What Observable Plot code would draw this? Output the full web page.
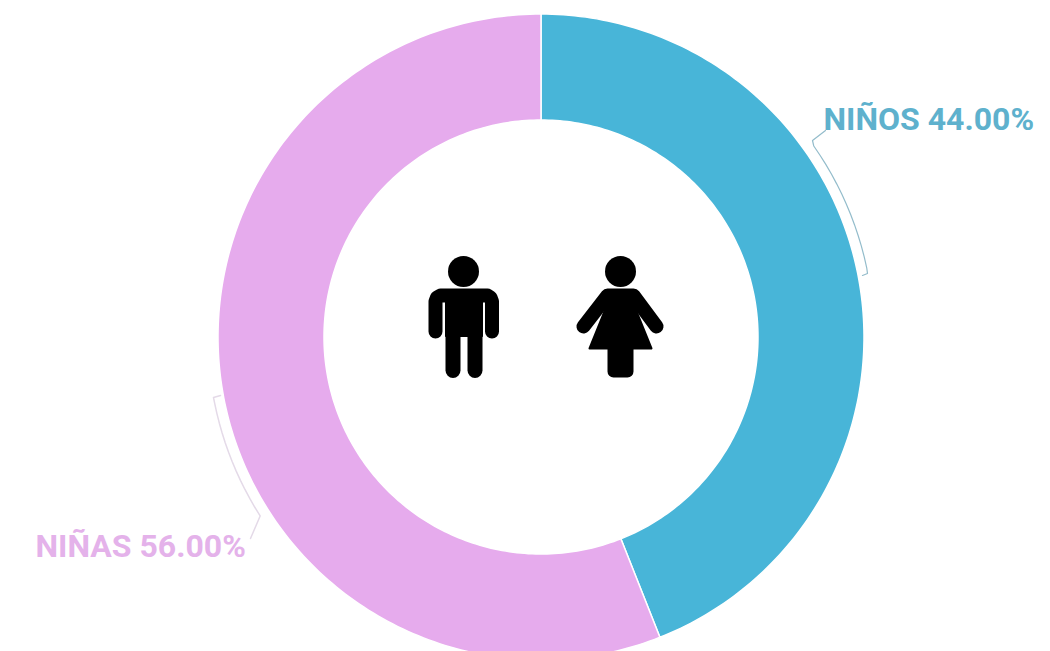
<!DOCTYPE html>
<html>
<head>
<meta charset="utf-8">
<script src="https://cdn.jsdelivr.net/npm/d3@7"></script>
<script src="https://cdn.jsdelivr.net/npm/@observablehq/plot@0.6"></script>
<style>html,body{margin:0;padding:0;background:#fff}svg{display:block}</style>
</head>
<body>
<div id="chart"></div>
<script>
const categories = ["NIÑOS", "NIÑAS"];
const shares = [44.00, 56.00];
const sliceColors = ["#48b5d8", "#e6abed"];
const labelColors = ["#5eb1cd", "#e4b2ea"];
const labelX = [823, 35];
const labelY = [119, 546];

const center = [540.5, 336.5];
const outerR = 323;
const innerR = 217;
const leaderR = 333;

const polar = (deg, r) => {
  const a = deg * Math.PI / 180;
  return [center[0] + r * Math.sin(a), center[1] - r * Math.cos(a)];
};

// Slices: ring outlines derived from the shares
const slices = [];
let start = 0;
categories.forEach((name, i) => {
  const end = start + shares[i] / d3.sum(shares) * 360;
  const n = Math.ceil(end - start);
  const angles = d3.range(n + 1).map(k => start + (end - start) * k / n);
  const push = (a, r) => { const [x, y] = polar(a, r); slices.push({name, x, y}); };
  angles.forEach(a => push(a, outerR));
  angles.slice().reverse().forEach(a => push(a, innerR));
  push(angles[0], outerR);
  start = end;
});

const labels = categories.map((name, i) => ({
  text: `${name} ${shares[i].toFixed(2)}%`, x: labelX[i], y: labelY[i], color: labelColors[i]
}));

const rimArc = (a0, a1) => d3.range(13).map(k => polar(a0 + (a1 - a0) * k / 12, leaderR));
const leaderNinos = [[825,130],[812,140], ...rimArc(55, 78), [867,273],[862,275]];
const leaderNinas = [[220,395],[213,397], ...rimArc(258.5, 237.5), [250,538]];

const heads = [{x: 463, y: 271}, {x: 620, y: 271}];
const headRadius = 15.5;

const iconStrokes = [
  {part: "manArms", w: 14, pts: [[435,331],[435,301],[436.5,297],[440,295],[487,295],[490,297],[491.5,301],[491.5,331]]},
  {part: "manLegL", w: 15, pts: [[452.5,330],[452.5,370]]},
  {part: "manLegR", w: 15, pts: [[474.5,330],[474.5,370]]},
  {part: "womanArms", w: 14, pts: [[583,326],[607,295],[633,295],[656,326]]}
].flatMap(s => s.pts.map(([x, y]) => ({part: s.part, w: s.w, x, y})));

const iconFills = [
  {part: "manTorso", w: 1, pts: [[445,290],[482,290],[482,336],[445,336]]},
  {part: "womanDress", w: 2, pts: [[608,292],[632,292],[634,306],[651,348],[589,348],[606,306]]},
  {part: "womanStem", w: 12, pts: [[613,345],[627,345],[627,371],[613,371]]}
].flatMap(s => s.pts.concat([s.pts[0]]).map(([x, y]) => ({part: s.part, w: s.w, x, y})));

const toPts = a => a.map(([x, y]) => ({x, y}));

const chart = Plot.plot({
  width: 1050,
  height: 651,
  margin: 0,
  style: {background: "#fff"},
  x: {domain: [0, 1050], range: [0, 1050], axis: null},
  y: {domain: [0, 651], range: [0, 651], axis: null},
  color: {domain: categories, range: sliceColors},
  marks: [
    Plot.line(slices, {x: "x", y: "y", z: "name", fill: "name", stroke: "#fff", strokeWidth: 1.5}),
    Plot.line(toPts(leaderNinos), {x: "x", y: "y", stroke: "#93bccb", strokeWidth: 1.2}),
    Plot.line(toPts(leaderNinas), {x: "x", y: "y", stroke: "#e4dae8", strokeWidth: 1.5}),
    Plot.line(iconFills, {x: "x", y: "y", z: "part", fill: "#000", stroke: "#000", strokeWidth: "w", strokeLinejoin: "round"}),
    Plot.line(iconStrokes, {x: "x", y: "y", z: "part", stroke: "#000", strokeWidth: "w", strokeLinejoin: "round", strokeLinecap: "round"}),
    Plot.dot(heads, {x: "x", y: "y", r: headRadius, fill: "#000"}),
    Plot.text(labels, {x: "x", y: "y", text: "text", fill: d => d.color, textAnchor: "start",
      fontFamily: "Roboto", fontWeight: 700, fontSize: 32})
  ]
});
document.getElementById("chart").appendChild(chart);
</script>
</body>
</html>
